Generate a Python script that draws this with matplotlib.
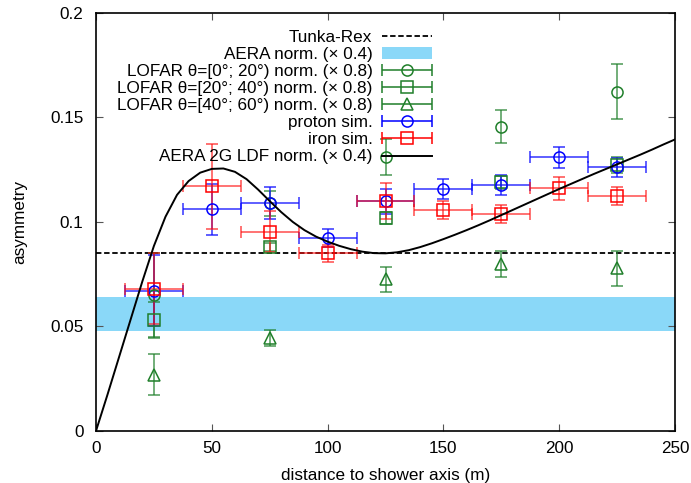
import numpy as np
import matplotlib
matplotlib.use('Agg')
import matplotlib.pyplot as plt
import matplotlib.ticker as ticker
from matplotlib.patches import Patch
from matplotlib.lines import Line2D
from matplotlib.legend_handler import HandlerErrorbar

plt.rcParams['font.family'] = ['Liberation Sans', 'DejaVu Sans']
plt.rcParams['font.size'] = 12.3

# CoREAS simulations, 25 m bins
sim_r = [25, 50, 75, 100, 125, 150, 175, 200, 225]
sim_dr = 12.5
proton_a = [0.067, 0.106, 0.109, 0.0925, 0.110, 0.1158, 0.1177, 0.131, 0.1262]
proton_err = [0.017, 0.012, 0.0077, 0.0043, 0.006, 0.005, 0.005, 0.005, 0.0045]
iron_a = [0.068, 0.117, 0.0954, 0.085, 0.110, 0.1057, 0.1038, 0.1161, 0.1124]
iron_err = [0.017, 0.0205, 0.010, 0.004, 0.0085, 0.0045, 0.0042, 0.0056, 0.0043]

# LOFAR measurements, scaled by 0.8
lofar_r = [25, 75, 125, 175, 225]
lofar1_a = [0.065, 0.109, 0.131, 0.1456, 0.1624]
lofar1_err = [0.020, 0.006, 0.0085, 0.008, 0.013]
lofar2_a = [0.053, 0.088, 0.1018, 0.119, 0.1273]
lofar2_err = [0.0085, 0.002, 0.003, 0.003, 0.004]
lofar3_a = [0.027, 0.0445, 0.0727, 0.0799, 0.0778]
lofar3_err = [0.010, 0.004, 0.006, 0.006, 0.0082]

tunka_a = 0.085
aera_lo = 0.048
aera_hi = 0.064

# AERA 2G LDF asymmetry (x 0.4)
ldf_r = [0, 5, 10, 15, 20, 25, 30, 35, 40, 45, 50, 55, 60, 65, 70, 75, 80, 85,
         90, 95, 100, 105, 110, 115, 120, 125, 130, 135, 140, 145, 150, 155,
         160, 165, 170, 175, 180, 185, 190, 195, 200, 205, 210, 215, 220, 225,
         230, 235, 240, 245, 250]
ldf_a = [0.0, 0.0175, 0.0355, 0.0535, 0.0715, 0.0885, 0.1025, 0.1130, 0.1196,
         0.1236, 0.1254, 0.1256, 0.1240, 0.1205, 0.1155, 0.1100, 0.1047,
         0.1000, 0.0961, 0.0930, 0.0906, 0.0886, 0.0870, 0.0858, 0.0851,
         0.0850, 0.0855, 0.0865, 0.0880, 0.0898, 0.0918, 0.0939, 0.0961,
         0.0984, 0.1008, 0.1033, 0.1058, 0.1083, 0.1108, 0.1133, 0.1158,
         0.1182, 0.1206, 0.1230, 0.1253, 0.1276, 0.1299, 0.1322, 0.1346,
         0.1371, 0.1395]

c_lofar = '#1f7f2a'
c_aera = '#8ad8f8'

fig = plt.figure(figsize=(6.91, 4.83), dpi=100)
ax = fig.add_axes([0.1389, 0.1077, 0.838, 0.8654])

ax.fill_between([0, 250], aera_lo, aera_hi, color=c_aera, lw=0, zorder=1)
ax.axhline(tunka_a, color='k', ls=(0, (3, 1.5)), lw=1.3, zorder=2)

eb = dict(fmt='none', capsize=4, elinewidth=1.1, capthick=1.1, zorder=3)
mk = dict(ls='none', mfc='none', ms=8, mew=1.1, zorder=4)

for a, e, m in [(lofar1_a, lofar1_err, 'o'), (lofar2_a, lofar2_err, 's'),
                (lofar3_a, lofar3_err, '^')]:
    ax.errorbar(lofar_r, a, yerr=e, ecolor=c_lofar, alpha=0.8, **eb)
    ax.plot(lofar_r, a, marker=m, mec=c_lofar, **mk)

ax.errorbar(sim_r, proton_a, xerr=sim_dr, yerr=proton_err, ecolor='#1010ff', alpha=0.85, **eb)
ax.plot(sim_r, proton_a, marker='o', mec='#0000ff', **mk)
ax.errorbar(sim_r, iron_a, xerr=sim_dr, yerr=iron_err, ecolor='#ff1010', alpha=0.75, **eb)
ax.plot(sim_r, iron_a, marker='s', mec='#ff0000', **mk)

ax.plot(ldf_r, ldf_a, color='k', lw=1.4, zorder=5)

ax.set_xlim(0, 250)
ax.set_ylim(0, 0.2)
ax.xaxis.set_major_locator(ticker.MultipleLocator(50))
ax.yaxis.set_major_locator(ticker.MultipleLocator(0.05))
ax.yaxis.set_major_formatter(ticker.FormatStrFormatter('%g'))
ax.tick_params(direction='in', length=5, width=0.8, color='#555555',
               top=True, right=True)
ax.tick_params(axis='x', pad=7)
ax.tick_params(axis='y', pad=9)
for s in ax.spines.values():
    s.set_linewidth(1.2)
    s.set_zorder(6)
ax.set_xlabel('distance to shower axis (m)', va='top')
ax.set_ylabel('asymmetry')
ax.xaxis.set_label_coords(0.5, -0.088)
ax.yaxis.set_label_coords(-0.119, 0.5)

# legend entries
def proxy(color, marker):
    return ax.errorbar([np.nan], [np.nan], xerr=[1.0], color=color, marker=marker,
                       ls='none', mfc='none', ms=8, mew=1.1, capsize=4,
                       elinewidth=1.1, capthick=1.1)

handles = [
    Line2D([], [], color='k', ls=(0, (3, 1.5)), lw=1.3),
    Patch(facecolor=c_aera, edgecolor='none'),
    proxy(c_lofar, 'o'),
    proxy(c_lofar, 's'),
    proxy(c_lofar, '^'),
    proxy('#0000ff', 'o'),
    proxy('#ff0000', 's'),
    Line2D([], [], color='k', lw=1.4),
]
labels = [
    'Tunka-Rex',
    'AERA norm. (\u00d7 0.4)',
    'LOFAR \u03b8=[0\u00b0; 20\u00b0) norm. (\u00d7 0.8)',
    'LOFAR \u03b8=[20\u00b0; 40\u00b0) norm. (\u00d7 0.8)',
    'LOFAR \u03b8=[40\u00b0; 60\u00b0) norm. (\u00d7 0.8)',
    'proton sim.',
    'iron sim.',
    'AERA 2G LDF norm. (\u00d7 0.4)',
]
hl = 2.9
leg = ax.legend(handles, labels, loc='upper right', bbox_to_anchor=(0.58, 0.959),
                frameon=False, markerfirst=False, handlelength=hl,
                handletextpad=0.58, labelspacing=0.12, borderpad=0,
                borderaxespad=0, numpoints=1,
                handler_map={type(handles[2]): HandlerErrorbar(xerr_size=hl / 2, numpoints=1)})
leg.set_zorder(7)

fig.savefig('out.png', dpi=100)
